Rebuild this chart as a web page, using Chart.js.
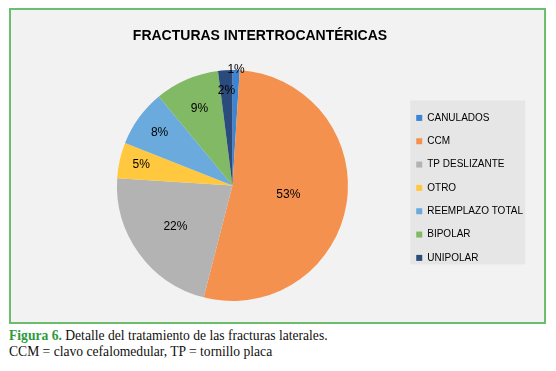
<!DOCTYPE html>
<html>
<head>
<meta charset="utf-8">
<script src="https://cdn.jsdelivr.net/npm/chart.js@4.4.1/dist/chart.umd.min.js"></script>
<style>
  body { margin: 0; background: #fff; width: 556px; height: 371px; position: relative; overflow: hidden; }
  #frame { position: absolute; left: 9px; top: 8px; width: 537px; height: 316px; box-sizing: border-box;
           border: 2px solid #6cbd6c; background: #f2f2f2; }
  #frame canvas { display: block; }
  .caption { position: absolute; left: 9px; top: 328px; font-family: "Liberation Serif", "DejaVu Serif", serif;
             font-size: 13.6px; line-height: 16px; color: #111; }
  .caption b { color: #2f9a3c; }
</style>
</head>
<body>
<div id="frame"><canvas id="pie" width="533" height="312"></canvas></div>
<div class="caption"><b>Figura 6.</b> Detalle del tratamiento de las fracturas laterales.<br>CCM = clavo cefalomedular, TP = tornillo placa</div>
<script>
/* data */
const chartTitle = 'FRACTURAS INTERTROCANTÉRICAS';
const categories = ['CANULADOS', 'CCM', 'TP DESLIZANTE', 'OTRO', 'REEMPLAZO TOTAL', 'BIPOLAR', 'UNIPOLAR'];
const percentages = [1, 53, 22, 5, 8, 9, 2];

// look
const sliceColors = ['#3b84d6', '#f4914e', '#b3b3b3', '#ffc83e', '#6aaadc', '#82b964', '#2b4b7c'];
const labelRadius = [1.0, 0.49, 0.61, 0.81, 0.78, 0.72, 0.82];
const legendPad = 13.33;

// grey box behind the legend
const legendBg = {
  id: 'legendBg',
  beforeDraw(chart) {
    const lg = chart.legend;
    if (!lg || !lg.columnSizes) return;
    const colH = lg.columnSizes[0].height;
    const th = lg._computeTitleHeight();
    const yStart = (lg.top + th + legendPad + lg.bottom - colH) / 2;
    const x0 = lg.left + legendPad - 6;
    const ctx = chart.ctx;
    ctx.save();
    ctx.fillStyle = '#e6e6e6';
    ctx.fillRect(x0, yStart - 12.5, 115, 164);
    ctx.restore();
  }
};

// percent labels on the slices
const pieLabels = {
  id: 'pieLabels',
  afterDatasetsDraw(chart) {
    const ctx = chart.ctx;
    const arcs = chart.getDatasetMeta(0).data;
    ctx.save();
    ctx.font = '12px "Liberation Sans", Arial, sans-serif';
    ctx.fillStyle = '#000';
    ctx.textAlign = 'center';
    ctx.textBaseline = 'middle';
    arcs.forEach((arc, i) => {
      const p = arc.getProps(['x', 'y', 'startAngle', 'endAngle', 'outerRadius'], true);
      const mid = (p.startAngle + p.endAngle) / 2;
      const r = p.outerRadius * labelRadius[i];
      ctx.fillText(percentages[i] + '%', p.x + Math.cos(mid) * r, p.y + Math.sin(mid) * r);
    });
    ctx.restore();
  }
};

// title sits off-centre in the original, so draw it ourselves
const titleText = {
  id: 'titleText',
  afterDraw(chart) {
    const ctx = chart.ctx;
    ctx.save();
    ctx.font = 'bold 14px "Liberation Sans", Arial, sans-serif';
    ctx.fillStyle = '#000';
    ctx.textAlign = 'center';
    ctx.textBaseline = 'middle';
    ctx.fillText(chartTitle, 249, 26);
    ctx.restore();
  }
};

new Chart(document.getElementById('pie'), {
  type: 'pie',
  data: {
    labels: categories,
    datasets: [{
      data: percentages,
      backgroundColor: sliceColors,
      borderWidth: 0
    }]
  },
  options: {
    responsive: false,
    animation: false,
    layout: { padding: { left: 51, right: 11, top: 60, bottom: 21 } },
    plugins: {
      title: { display: false },
      tooltip: { enabled: false },
      legend: {
        position: 'right',
        // empty title only nudges the items down a little
        title: { display: true, text: ' ', padding: 0, font: { size: 4 } },
        labels: {
          boxWidth: 6,
          boxHeight: 6,
          padding: legendPad,
          color: '#000',
          font: { family: '"Liberation Sans", Arial, sans-serif', size: 10 }
        }
      }
    }
  },
  plugins: [legendBg, pieLabels, titleText]
});
</script>
</body>
</html>
